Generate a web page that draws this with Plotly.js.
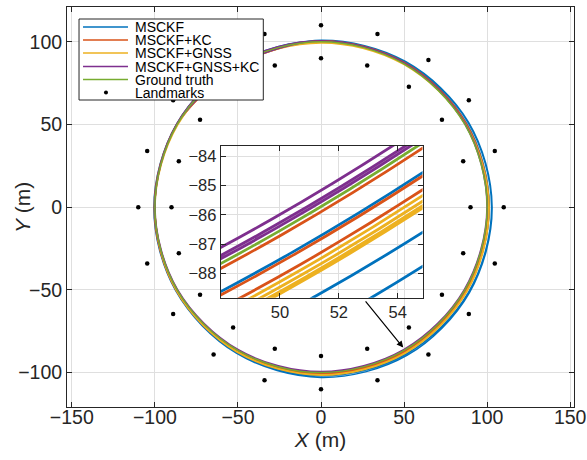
<!DOCTYPE html>
<html><head><meta charset="utf-8">
<script src="https://cdn.plot.ly/plotly-3.0.1.min.js"></script>
<style>html,body{margin:0;padding:0;background:#fff;}#chart{width:587px;height:460px;}</style>
</head><body><div id="chart"></div>
<script>
// ---- data ----
const seriesNames = ['MSCKF', 'MSCKF+KC', 'MSCKF+GNSS', 'MSCKF+GNSS+KC', 'Ground truth'];
const seriesColors = ['#0072BD', '#D95319', '#EDB120', '#7E2F8E', '#77AC30'];

// trajectory heading angle (deg) of the samples, several laps (start hidden under legend)
const trackAnglesDeg = [120,150,180,210,240,270,300,330,360,390,420,450,
  480,510,540,570,600,630,660,690,720,750,780,810,
  840,870,900,930,960,990,1020,1050,1080,1110,1140,1170,
  1200,1230,1260,1290,1320,1350,1380,1410,1440,1470,1500,1530,1560];

// distance from the circle centre (m) at those angles
const msckfR = [100.2,100.1,100.1,100.3,100.5,100.7,100.8,100.9,101.3,101.2,100.9,100.5,
  100.3,100.2,100.3,100.6,101.2,101.9,102.5,102.6,102.7,102.3,101.5,100.8,
  100.5,100.4,100.6,101.0,101.9,102.9,103.5,103.2,103.0,102.6,101.7,100.9,
  100.6];
const msckfKcR = [99.9,99.9,100.0,100.0,100.1,100.1,100.1,100.2,100.4,100.4,100.3,100.2,
  100.1,100.1,100.2,100.4,100.6,100.8,100.9,100.9,100.9,100.8,100.6,100.4,
  100.3,100.3,100.4,100.7,101.0,101.2,101.3,101.2,101.1,101.0,100.8,100.6,
  100.4];
const msckfGnssR = [99.4,99.6,99.9,100.4,100.9,101.3,101.47,101.3,100.9,100.3,99.7,99.4,
  99.4,99.6,100.0,100.5,101.0,101.4,101.63,101.4,101.0,100.4,99.8,99.3,
  99.3,99.6,100.0,100.5,101.1,101.5,101.76,101.5,101.1,100.4,99.8,99.3,
  99.3,99.6,100.0,100.6,101.1,101.6,101.83,101.6,101.2,100.5,99.9,99.4,
  99.4];
const msckfGnssKcR = [100.4,100.2,99.9,99.7,99.5,99.4,99.47,99.6,99.9,100.2,100.4,100.5,
  100.4,100.2,100.0,99.8,99.7,99.6,99.71,99.8,100.0,100.3,100.5,100.6,
  100.5,100.3,100.1,99.9,99.8,99.7,99.81,99.9,100.0,100.3,100.5,100.6,
  100.5];
const groundTruthR = [100.0,100.0,100.0,100.0,100.0,100.0,99.95,100.0,100.0,100.0,100.0,100.0,100.0];

// landmarks: bearing (deg) and ring radius (m)
const landmarkAnglesDeg = [0,18,36,54,72,90,108,126,144,162,180,198,216,234,252,270,288,306,324,342];
const landmarkRadii = [90, 110];

// axis ticks
const mainTicks = [-150, -100, -50, 0, 50, 100, 150];
const insetXTicks = [50, 52, 54];
const insetYTicks = [-88, -87, -86, -85, -84];

// ---- build ----
const seriesR = [msckfR, msckfKcR, msckfGnssR, msckfGnssKcR, groundTruthR];
function toXY(radii) {
  const x = [], y = [];
  radii.forEach((r, i) => {
    const a = trackAnglesDeg[i] * Math.PI / 180;
    x.push(r * Math.cos(a)); y.push(r * Math.sin(a));
  });
  return {x, y};
}
const xy = seriesR.map(toXY);
const lmX = [], lmY = [];
landmarkRadii.forEach(r => landmarkAnglesDeg.forEach(d => {
  const a = d * Math.PI / 180; lmX.push(r * Math.cos(a)); lmY.push(r * Math.sin(a));
}));

const FONT = 'Liberation Sans, Arial, Helvetica, sans-serif';
const AX = '#262626';
const traces = [];
xy.forEach((p, i) => traces.push({
  x: p.x, y: p.y, name: seriesNames[i], type: 'scatter', mode: 'lines',
  line: {color: seriesColors[i], width: 1.5, shape: 'spline'},
  xaxis: 'x', yaxis: 'y', hoverinfo: 'skip', showlegend: false
}));
traces.push({x: lmX, y: lmY, name: 'Landmarks', type: 'scatter', mode: 'markers',
  marker: {color: '#000', size: 4.5}, xaxis: 'x', yaxis: 'y', hoverinfo: 'skip', showlegend: false});
xy.forEach((p, i) => traces.push({
  x: p.x, y: p.y, name: seriesNames[i], type: 'scatter', mode: 'lines',
  line: {color: seriesColors[i], width: 2.8, shape: 'spline'},
  xaxis: 'x2', yaxis: 'y2', hoverinfo: 'skip', showlegend: false
}));

const axCommon = {
  ticks: 'inside', ticklen: 5, tickwidth: 1, tickcolor: AX, mirror: 'ticks',
  showline: true, linecolor: AX, linewidth: 1, showgrid: true, gridcolor: '#dfdfdf',
  gridwidth: 1, zeroline: false, tickmode: 'array'
};

// manual legend (MATLAB style)
const legRows = [0.95, 0.9175, 0.885, 0.85125, 0.81875, 0.78625];
const legendLabels = seriesNames.concat(['Landmarks']);
const shapes = [
  {type: 'rect', xref: 'paper', yref: 'paper', x0: 0.0237, x1: 0.3872, y0: 0.7675, y1: 0.97,
   fillcolor: '#fff', line: {color: AX, width: 1}, layer: 'above'}
];
seriesColors.forEach((c, i) => shapes.push({type: 'line', xref: 'paper', yref: 'paper',
  x0: 0.0316, x1: 0.1203, y0: legRows[i], y1: legRows[i], line: {color: c, width: 1.5}, layer: 'above'}));
shapes.push({type: 'circle', xref: 'paper', yref: 'paper', xsizemode: 'pixel', ysizemode: 'pixel',
  xanchor: 0.0769, yanchor: legRows[5], x0: -2, x1: 2, y0: -2, y1: 2,
  fillcolor: '#000', line: {width: 0}, layer: 'above'});

const annotations = legendLabels.map((t, i) => ({
  text: t, xref: 'paper', yref: 'paper', x: 0.1312, y: legRows[i], xanchor: 'left', yanchor: 'middle',
  showarrow: false, font: {family: FONT, size: 14, color: '#000'}, borderpad: 0
}));
annotations.push({text: '<i>Y</i> (m)', xref: 'paper', yref: 'paper', x: -0.0888, y: 0.5,
  xanchor: 'center', yanchor: 'middle', textangle: -90, showarrow: false,
  font: {family: FONT, size: 21, color: AX}});
annotations.push({text: '', xref: 'x', yref: 'y', axref: 'x', ayref: 'y',
  x: 49.5, y: -84.9, ax: 26.1, ay: -56.1, showarrow: true, arrowhead: 2, arrowsize: 1.1,
  arrowwidth: 1.2, arrowcolor: '#000', standoff: 0});

const layout = {
  width: 587, height: 460,
  margin: {l: 67, r: 13, t: 7, b: 53},
  paper_bgcolor: '#fff', plot_bgcolor: 'rgba(0,0,0,0)',
  showlegend: false,
  font: {family: FONT, color: AX},
  xaxis: Object.assign({}, axCommon, {range: [-152.9, 152.3], tickvals: mainTicks,
    tickfont: {family: FONT, size: 19.5, color: AX}, ticklabelstandoff: -7,
    title: {text: '<i>X</i> (m)', font: {family: FONT, size: 21, color: AX}, standoff: 4}}),
  yaxis: Object.assign({}, axCommon, {range: [-120.8, 121], tickvals: mainTicks,
    tickfont: {family: FONT, size: 19.5, color: AX}}),
  xaxis2: Object.assign({}, axCommon, {domain: [0.3032, 0.7012], anchor: 'y2',
    range: [47.99, 54.84], tickvals: insetXTicks, tickfont: {family: FONT, size: 16.5, color: AX}}),
  yaxis2: Object.assign({}, axCommon, {domain: [0.2733, 0.6525], anchor: 'x2',
    range: [-88.84, -83.64], tickvals: insetYTicks, tickfont: {family: FONT, size: 16.5, color: AX}}),
  shapes: shapes,
  annotations: annotations
};
Plotly.newPlot('chart', traces, layout, {displayModeBar: false, staticPlot: true});
</script></body></html>
